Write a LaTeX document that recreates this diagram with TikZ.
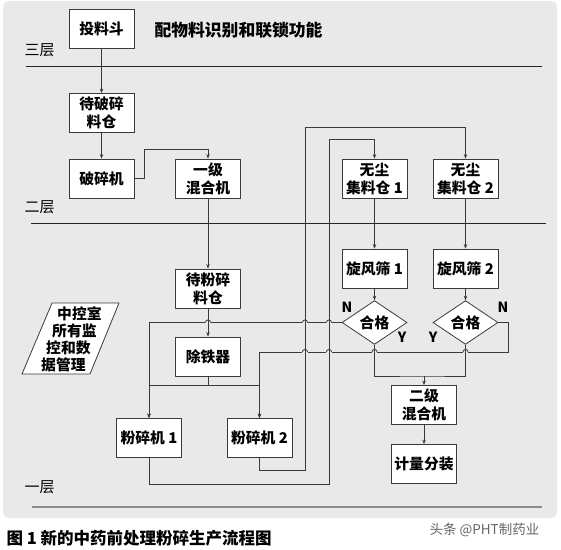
\documentclass[tikz,border=0pt]{standalone}
\usepackage{fontspec}
\newfontfamily\cjk{Noto Sans CJK SC}
\usetikzlibrary{shapes.geometric,arrows.meta}

\definecolor{panelgray}{HTML}{E9E9E9}
\definecolor{linegray}{HTML}{3A3A3A}

\tikzset{
  unitbox/.style={draw=linegray, line width=0.8pt, fill=white,
    minimum width=65pt, minimum height=39pt, inner sep=1pt, align=center,
    font=\cjk\bfseries\fontsize{14.8}{18}\selectfont},
  checkbox/.style={diamond, draw=linegray, line width=0.8pt, fill=white,
    minimum width=65pt, minimum height=39pt, inner sep=0pt,
    font=\cjk\bfseries\fontsize{14.8}{18}\selectfont},
  flow/.style={draw=linegray, line width=0.8pt},
  arr/.style={flow, -{Stealth[length=4.5pt,width=3.5pt]}},
  floorline/.style={draw=black!85, line width=0.8pt},
  floortag/.style={anchor=west, font=\cjk\fontsize{15}{16}\selectfont},
  yn/.style={font=\cjk\bfseries\fontsize{14}{14}\selectfont}
}

% small bump where a horizontal connector passes over a vertical one
\newcommand{\hop}[2]{%
  \fill[panelgray] (#1-2.6,#2-1) rectangle (#1+2.6,#2+1);
  \draw[flow] (#1,#2-3) -- (#1,#2+3);
  \draw[flow] (#1-2.6,#2) arc (180:360:2.6);
}

\begin{document}
\begin{tikzpicture}[x=1pt,y=-1pt]
  \useasboundingbox (0,0) rectangle (561,549);

  % panel
  \fill[panelgray, rounded corners=6pt] (3,1) rectangle (557,518);

  % floors
  \draw[floorline] (26,66.5) -- (542,66.5);
  \draw[floorline] (31,223) -- (546,223);
  \draw[draw=black!45, line width=2pt] (32,507) -- (542,507);
  \node[floortag] (floor3) at (21,50) {三层};
  \node[floortag] (floor2) at (21,207) {二层};
  \node[floortag] (floor1) at (21,487) {一层};

  \node[anchor=west, font=\cjk\bfseries\fontsize{16.8}{17}\selectfont] (title) at (151,30) {配物料识别和联锁功能};

  % third and second floor
  \node[unitbox] (hopper) at (101.5,28.5) {投料斗};
  \node[unitbox] (rawbin) at (101.5,113) {待破碎\\料仓};
  \node[unitbox] (crusher) at (101.5,178.5) {破碎机};
  \node[unitbox] (mixer1) at (208,178.5) {一级\\混合机};
  \node[unitbox] (bin1) at (374.5,178.5) {无尘\\集料仓 1};
  \node[unitbox] (bin2) at (465.5,178.5) {无尘\\集料仓 2};

  % first floor
  \node[unitbox] (powderbin) at (208,288.5) {待粉碎\\料仓};
  \node[unitbox] (iron) at (208,356.5) {除铁器};
  \node[unitbox] (mill1) at (149,438) {粉碎机 1};
  \node[unitbox] (mill2) at (259.5,438) {粉碎机 2};
  \node[unitbox] (sieve1) at (374.5,268.5) {旋风筛 1};
  \node[unitbox] (sieve2) at (465.5,268.5) {旋风筛 2};
  \node[checkbox] (ok1) at (374.5,322.5) {合格};
  \node[checkbox] (ok2) at (465.5,322.5) {合格};
  \node[unitbox] (mixer2) at (424,405) {二级\\混合机};
  \node[unitbox] (pack) at (424,464) {计量分装};

  % control room
  \draw[draw=linegray, line width=0.8pt, fill=white] (22,374) -- (52,303) -- (119,303) -- (90,374) -- cycle;
  \node[anchor=north west, align=left, inner sep=0pt,
        font=\cjk\bfseries\fontsize{14.8}{17}\selectfont] (ctrl) at (41,306)
        {\hspace*{16pt}中控室\\\hspace*{11pt}所有监\\\hspace*{5pt}控和数\\据管理};

  \node[yn] (n1) at (347,307) {N};
  \node[yn] (y1) at (402,337) {Y};
  \node[yn] (y2) at (433,337) {Y};
  \node[yn] (n2) at (503,307) {N};

  \coordinate (c1) at (144,149);
  \coordinate (split) at (208,385);
  \coordinate (r2a) at (305,470);
  \coordinate (r2b) at (305,127);
  \coordinate (r1a) at (329,484);
  \coordinate (r1b) at (329,139);
  \coordinate (back2) at (508,352);
  \coordinate (merge) at (424,376);

  \draw[arr] (hopper) -- (rawbin);
  \draw[arr] (rawbin) -- (crusher);
  \draw[arr] (crusher.east) -| (c1) -| (mixer1.north);
  \draw[arr] (mixer1) -- (powderbin);
  \draw[arr] (powderbin) -- (iron);
  \draw[flow] (iron) -- (split);
  \draw[arr] (split) -| (mill1.north);
  \draw[arr] (split) -| (mill2.north);

  \draw[arr] (mill2.south) |- (r2a) -- (r2b) -| (bin2.north);
  \draw[arr] (mill1.south) |- (r1a) -- (r1b) -| (bin1.north);

  \draw[arr] (bin1) -- (sieve1);
  \draw[arr] (bin2) -- (sieve2);
  \draw[arr] (sieve1) -- (ok1);
  \draw[arr] (sieve2) -- (ok2);

  \draw[arr] (ok1.west) -| (mill1.north);
  \draw[arr] (ok2.east) -| (back2) -| (mill2.north);
  \draw[flow] (ok1.south) |- (merge) -| (ok2.south);
  \draw[arr] (merge) -- (mixer2);
  \draw[arr] (mixer2) -- (pack);

  \foreach \x in {208,305,329} {\hop{\x}{322.5}}
  \foreach \x in {305,329,374.5,465.5} {\hop{\x}{352}}

  % caption
  \node[anchor=west, font=\cjk\bfseries\fontsize{16.5}{16}\selectfont] (caption) at (3,538) {图 1 新的中药前处理粉碎生产流程图};
  \node[anchor=west, text=black!60, font=\cjk\fontsize{13.5}{13}\selectfont] (mark) at (426,530) {头条 @PHT制药业};
\end{tikzpicture}
\end{document}
